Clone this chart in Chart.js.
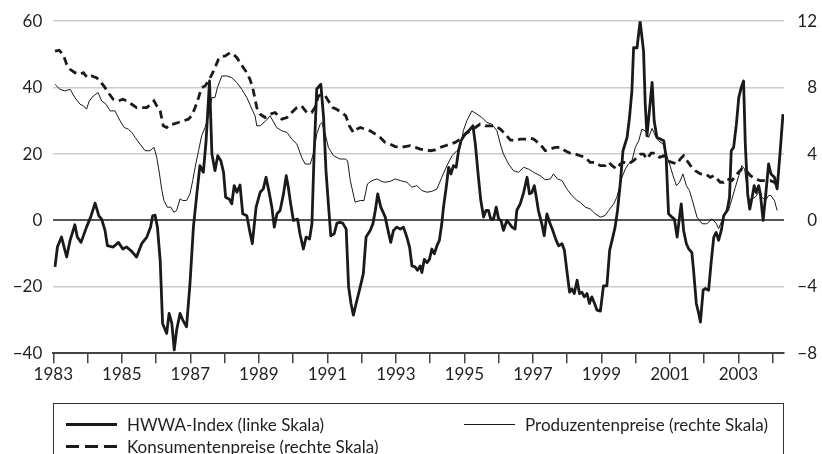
<!DOCTYPE html>
<html><head><meta charset="utf-8">
<script src="https://cdn.jsdelivr.net/npm/chart.js@4"></script>
<style>
html,body{margin:0;padding:0;background:#fff;overflow:hidden;}
#wrap{position:relative;width:822px;height:454px;overflow:hidden;}
#c{position:absolute;left:0;top:0;}
#legend{position:absolute;left:53px;top:403px;width:731px;height:80px;border:1.5px solid #333;box-sizing:border-box;font-family:Lato,sans-serif;font-size:17px;color:#231f20;}
.item{position:absolute;height:20px;display:flex;align-items:center;white-space:nowrap;}
.sw{width:51px;margin-right:10px;}
.s1{height:3px;background:#1a1a1a;}
.s2{height:1px;background:#1a1a1a;}
.s3{height:3px;background:repeating-linear-gradient(to right,#1a1a1a 0 13px,transparent 13px 19px);}
</style></head>
<body>
<div id="wrap">
<canvas id="c" width="822" height="454"></canvas>
<div id="legend">
 <div class="item" style="left:12px;top:10px"><div class="sw s1"></div><span>HWWA-Index (linke Skala)</span></div>
 <div class="item" style="left:410px;top:10px"><div class="sw s2"></div><span>Produzentenpreise (rechte Skala)</span></div>
 <div class="item" style="left:12px;top:32px"><div class="sw s3"></div><span>Konsumentenpreise (rechte Skala)</span></div>
</div>
</div>
<script>
// Time axis ticks (years) and value axes ticks
const tickYears = [1983,1984,1985,1986,1987,1988,1989,1990,1991,1992,1993,1994,1995,1996,1997,1998,1999,2000,2001,2002,2003,2004];
const leftTicks = [-40,-20,0,20,40,60];
const rightTicks = [-8,-4,0,4,8,12];

// HWWA-Index (left scale)
const hwwaYears = [1983.05,1983.12,1983.24,1983.39,1983.49,1983.63,1983.70,1983.81,1983.97,1984.09,1984.22,1984.33,1984.41,1984.51,1984.58,1984.75,1984.90,1985.03,1985.14,1985.29,1985.43,1985.58,1985.73,1985.84,1985.90,1985.97,1986.04,1986.12,1986.19,1986.31,1986.38,1986.46,1986.53,1986.60,1986.70,1986.78,1986.89,1986.99,1987.09,1987.19,1987.28,1987.38,1987.46,1987.56,1987.63,1987.72,1987.80,1987.89,1987.97,1988.03,1988.14,1988.21,1988.28,1988.36,1988.45,1988.53,1988.65,1988.73,1988.81,1988.92,1989.04,1989.13,1989.21,1989.31,1989.38,1989.45,1989.53,1989.62,1989.72,1989.80,1989.86,1989.93,1990.01,1990.13,1990.20,1990.30,1990.38,1990.48,1990.55,1990.61,1990.69,1990.81,1990.89,1990.96,1991.03,1991.10,1991.20,1991.28,1991.37,1991.45,1991.55,1991.62,1991.69,1991.76,1991.84,1991.96,1992.05,1992.13,1992.25,1992.33,1992.40,1992.47,1992.56,1992.69,1992.75,1992.85,1992.93,1993.03,1993.13,1993.22,1993.32,1993.40,1993.47,1993.56,1993.63,1993.71,1993.76,1993.83,1993.91,1993.98,1994.05,1994.12,1994.20,1994.27,1994.34,1994.39,1994.47,1994.54,1994.61,1994.68,1994.76,1994.83,1994.90,1994.99,1995.07,1995.17,1995.25,1995.32,1995.41,1995.48,1995.56,1995.63,1995.70,1995.77,1995.85,1995.93,1996.00,1996.07,1996.14,1996.24,1996.32,1996.39,1996.48,1996.53,1996.63,1996.73,1996.83,1996.90,1996.97,1997.04,1997.10,1997.16,1997.26,1997.33,1997.41,1997.49,1997.58,1997.68,1997.75,1997.85,1997.92,1997.99,1998.07,1998.14,1998.21,1998.29,1998.36,1998.43,1998.50,1998.58,1998.65,1998.72,1998.80,1998.87,1998.97,1999.06,1999.16,1999.24,1999.31,1999.40,1999.47,1999.55,1999.63,1999.75,1999.82,1999.89,1999.94,2000.04,2000.13,2000.23,2000.28,2000.33,2000.41,2000.48,2000.54,2000.62,2000.72,2000.82,2000.89,2000.96,2001.06,2001.13,2001.21,2001.28,2001.33,2001.40,2001.48,2001.55,2001.64,2001.69,2001.77,2001.84,2001.89,2001.97,2002.03,2002.13,2002.20,2002.28,2002.35,2002.42,2002.50,2002.57,2002.67,2002.74,2002.79,2002.86,2002.94,2003.01,2003.08,2003.15,2003.20,2003.27,2003.33,2003.40,2003.46,2003.52,2003.59,2003.64,2003.72,2003.79,2003.88,2003.95,2004.05,2004.13,2004.22,2004.30];
const hwwaValues = [-14,-8,-5,-11,-6,-1.3,-5,-6.6,-2,1,5.2,1.4,0.4,-3,-7.6,-8,-6.6,-8.6,-8,-9.3,-11,-7,-5,-2,1.4,1.6,-2,-12,-31,-34,-28,-31,-39,-33,-28,-30,-32,-19,-2,8,16.5,14.5,24,42,20,15,19.5,18,14.5,7,6.4,5,10.5,8.5,10.7,2,1.4,-3,-7,4,8.5,9.5,13,8,4,-2,2,3,8,13.5,10,5,0,0.4,-4,-8.6,-5,-5.6,-1,19,39.6,41,31,15,5,-4.6,-4,-0.8,-0.6,-0.8,-2.6,-20,-25,-28.5,-25,-20,-16,-5,-3,-1,3,8,4,1,-2,-6.6,-3,-2,-2.6,-2,-5,-8,-13.7,-14,-15,-13.7,-15.7,-11.7,-12.7,-11.7,-8.6,-10,-7.6,-6,-1,4,10,16,14,16.5,16,21,24,25.5,26.5,27.5,28.5,23,13,6,1,3,3,0.4,0.4,4,0.4,0,-3,0,-1,-2,-2.6,3,5,8.4,13,8,8.4,10.5,7,3,-1,-4.6,2,-0.6,-3,-6,-7.6,-7,-9,-15,-21.6,-20.6,-22,-18,-22,-21.6,-23,-22,-25,-23,-25,-27,-27.3,-19.7,-19.7,-9,-6,-2,3,11,21,25,31,39,52,52,60,51,35,25.5,34,41.6,30,25,24.5,24,19,2,1,0.4,-5,1,5,-3,-7,-8.6,-9.6,-15,-25,-28,-30.6,-21,-20.5,-21,-13,-5,-3.6,-6,-3,1.4,3,7,21,22,29,37,40,42,23,8,3.4,7,10.5,8.4,10.5,8,0,7,17,14,13,9.5,21,32];

// Produzentenpreise (right scale)
const ppiYears = [1983.05,1983.19,1983.34,1983.49,1983.63,1983.78,1983.88,1983.97,1984.05,1984.17,1984.31,1984.41,1984.54,1984.66,1984.80,1984.95,1985.07,1985.19,1985.29,1985.39,1985.53,1985.68,1985.82,1985.94,1986.02,1986.10,1986.17,1986.23,1986.33,1986.43,1986.52,1986.60,1986.70,1986.78,1986.89,1986.99,1987.07,1987.14,1987.24,1987.33,1987.43,1987.53,1987.63,1987.72,1987.79,1987.92,1988.06,1988.21,1988.36,1988.50,1988.65,1988.80,1988.89,1988.94,1989.04,1989.20,1989.33,1989.52,1989.67,1989.82,1989.96,1990.11,1990.25,1990.35,1990.50,1990.59,1990.69,1990.79,1990.84,1990.94,1991.03,1991.18,1991.37,1991.52,1991.59,1991.67,1991.81,1991.96,1992.07,1992.17,1992.30,1992.45,1992.54,1992.66,1992.83,1992.98,1993.13,1993.32,1993.47,1993.61,1993.76,1993.91,1994.05,1994.20,1994.34,1994.49,1994.64,1994.78,1994.88,1994.97,1995.07,1995.22,1995.37,1995.51,1995.66,1995.80,1995.95,1996.05,1996.14,1996.29,1996.43,1996.58,1996.73,1996.87,1997.02,1997.21,1997.36,1997.51,1997.60,1997.72,1997.85,1997.99,1998.14,1998.29,1998.38,1998.53,1998.67,1998.82,1998.97,1999.11,1999.21,1999.36,1999.45,1999.53,1999.60,1999.70,1999.79,1999.89,1999.99,2000.09,2000.18,2000.28,2000.38,2000.48,2000.57,2000.67,2000.80,2000.89,2000.99,2001.09,2001.19,2001.28,2001.38,2001.48,2001.57,2001.67,2001.79,2001.94,2002.08,2002.23,2002.36,2002.42,2002.52,2002.62,2002.71,2002.81,2002.91,2003.01,2003.10,2003.18,2003.30,2003.40,2003.49,2003.59,2003.69,2003.79,2003.88,2003.95,2004.05,2004.13];
const ppiValues = [8.2,7.9,7.8,7.9,7.4,7.0,6.9,6.7,7.2,7.5,7.7,7.2,7.0,6.6,6.6,6.0,5.6,5.5,5.3,5.0,4.6,4.2,4.2,4.4,3.8,2.8,1.8,1.2,0.8,0.8,0.5,0.6,1.3,1.2,1.2,1.6,2.4,3.2,4.2,5.1,5.6,6.3,7.4,7.4,8.0,8.7,8.7,8.6,8.3,7.9,7.4,6.7,6.3,5.7,5.7,6.0,6.3,5.6,5.4,5.3,4.9,4.6,3.8,3.4,3.4,4.0,5.2,5.8,5.9,5.2,4.4,3.9,3.7,3.7,3.6,2.4,1.1,1.2,1.2,2.2,2.4,2.5,2.4,2.3,2.35,2.5,2.4,2.3,2.0,2.1,1.8,1.7,1.75,1.9,2.6,3.3,3.9,4.2,4.4,5.4,6.0,6.6,6.4,6.2,5.9,5.8,5.4,4.6,4.0,3.4,3.0,2.9,3.2,3.1,2.9,2.7,2.45,2.5,2.8,2.5,2.4,1.9,1.5,1.2,1.1,0.8,0.7,0.4,0.2,0.3,0.6,1.0,1.4,2.0,2.6,3.1,3.4,3.6,4.4,4.8,5.5,5.4,5.0,5.55,5.1,4.8,4.6,4.0,3.4,2.7,2.1,2.3,2.8,2.1,1.8,1.1,0.2,-0.2,-0.2,0.1,-0.2,-0.5,0,0.4,0.6,1.3,2.0,2.7,3.3,3.1,1.2,1.3,1.4,1.7,1.4,1.2,1.5,1.5,1.2,0.6];

// Konsumentenpreise (right scale)
const cpiYears = [1983.05,1983.17,1983.29,1983.39,1983.49,1983.63,1983.78,1983.88,1983.99,1984.12,1984.26,1984.36,1984.51,1984.64,1984.75,1984.90,1985.03,1985.14,1985.29,1985.43,1985.58,1985.73,1985.84,1985.94,1986.02,1986.12,1986.17,1986.21,1986.31,1986.41,1986.50,1986.65,1986.80,1986.94,1987.04,1987.14,1987.24,1987.33,1987.43,1987.53,1987.63,1987.72,1987.82,1987.92,1988.01,1988.16,1988.26,1988.36,1988.45,1988.55,1988.65,1988.74,1988.82,1988.89,1988.94,1989.04,1989.18,1989.33,1989.47,1989.57,1989.67,1989.82,1989.96,1990.11,1990.25,1990.40,1990.54,1990.64,1990.74,1990.84,1990.94,1991.03,1991.16,1991.27,1991.42,1991.54,1991.64,1991.76,1991.86,1991.96,1992.10,1992.25,1992.40,1992.54,1992.69,1992.83,1992.98,1993.13,1993.27,1993.42,1993.57,1993.71,1993.86,1994.01,1994.15,1994.30,1994.44,1994.59,1994.73,1994.88,1995.02,1995.17,1995.32,1995.46,1995.61,1995.75,1995.90,1996.05,1996.19,1996.34,1996.48,1996.63,1996.78,1996.92,1997.02,1997.21,1997.36,1997.51,1997.65,1997.80,1997.94,1998.09,1998.24,1998.38,1998.53,1998.67,1998.82,1998.97,1999.11,1999.21,1999.31,1999.45,1999.55,1999.65,1999.79,1999.94,2000.04,2000.14,2000.23,2000.33,2000.45,2000.57,2000.70,2000.82,2000.91,2001.06,2001.21,2001.30,2001.40,2001.50,2001.60,2001.74,2001.89,2002.04,2002.18,2002.28,2002.38,2002.47,2002.57,2002.67,2002.81,2002.96,2003.10,2003.23,2003.35,2003.49,2003.64,2003.79,2003.93,2004.05,2004.13];
const cpiValues = [10.2,10.25,10.0,9.4,9.1,8.9,8.8,8.9,8.6,8.7,8.6,8.4,8.0,7.6,7.3,7.2,7.3,7.2,7.0,6.8,6.8,6.8,7.0,7.2,6.9,6.6,6.1,5.7,5.6,5.8,5.8,5.9,6.0,6.1,6.3,6.8,7.4,8.0,8.1,8.4,8.8,9.2,9.7,9.9,9.9,10.1,10.0,9.8,9.5,9.2,8.9,8.5,8.0,7.3,6.8,6.4,6.2,6.4,6.5,6.3,6.1,6.2,6.5,6.8,6.9,6.5,6.5,6.8,7.5,7.6,7.5,7.2,6.8,6.7,6.5,6.3,5.7,5.3,5.5,5.6,5.5,5.4,5.2,5.0,4.7,4.6,4.45,4.4,4.45,4.5,4.4,4.3,4.25,4.2,4.25,4.4,4.5,4.6,4.7,4.9,5.2,5.4,5.6,5.8,5.7,5.7,5.7,5.5,5.2,4.85,4.8,4.9,4.9,4.95,4.9,4.6,4.2,4.3,4.4,4.4,4.2,4.05,4.0,3.9,3.8,3.5,3.5,3.3,3.3,3.5,3.3,3.1,3.4,3.5,3.4,3.6,3.8,4.0,4.0,3.7,4.05,4.05,3.8,3.9,3.6,3.5,3.4,3.7,3.9,3.6,3.3,3.0,2.8,2.8,2.6,2.7,2.5,2.3,2.3,2.5,2.4,2.8,3.1,3.0,2.7,2.5,2.4,2.4,2.4,2.3,2.1];

const toPts = (xs, ys) => xs.map((x, i) => ({x: x, y: ys[i]}));
const minus = v => String(v).replace('-', '\u2212');
const FONT = {family: 'Lato, sans-serif', size: 17};
const INK = '#231f20';

new Chart(document.getElementById('c'), {
  type: 'line',
  data: {
    datasets: [
      {label: 'HWWA-Index (linke Skala)', data: toPts(hwwaYears, hwwaValues), yAxisID: 'yL',
       borderColor: '#1a1a1a', borderWidth: 2.8, pointRadius: 0, tension: 0, borderJoinStyle: 'round'},
      {label: 'Produzentenpreise (rechte Skala)', data: toPts(ppiYears, ppiValues), yAxisID: 'yR',
       borderColor: '#1a1a1a', borderWidth: 1, pointRadius: 0, tension: 0},
      {label: 'Konsumentenpreise (rechte Skala)', data: toPts(cpiYears, cpiValues), yAxisID: 'yR',
       borderColor: '#1a1a1a', borderWidth: 2.8, borderDash: [8, 5], pointRadius: 0, tension: 0}
    ]
  },
  options: {
    responsive: false, animation: false, devicePixelRatio: 1,
    layout: {padding: {top: 21, right: 5, bottom: 0, left: 0}},
    plugins: {legend: {display: false}, tooltip: {enabled: false}},
    scales: {
      x: {
        type: 'linear', position: 'bottom', min: 1983, max: 2004.33,
        afterBuildTicks: s => { s.ticks = tickYears.map(v => ({value: v})); },
        afterFit: s => { s.height = 100.7; },
        ticks: {callback: v => ((v - 1983) % 2 === 0 ? String(v) : ''), autoSkip: false, maxRotation: 0, minRotation: 0,
                font: FONT, color: INK, padding: 1},
        grid: {drawOnChartArea: false, drawTicks: true, tickLength: 10, color: '#444', lineWidth: 1.5},
        border: {display: true, color: '#444', width: 2}
      },
      yL: {
        position: 'left', min: -40, max: 60,
        afterBuildTicks: s => { s.ticks = leftTicks.map(v => ({value: v})); },
        afterFit: s => { s.width = 53.3; },
        ticks: {callback: v => minus(v), font: FONT, color: INK, padding: 11},
        grid: {drawTicks: false,
               color: c => c.tick.value === 0 ? '#555' : (c.tick.value === -40 ? 'rgba(0,0,0,0)' : '#cccccc'),
               lineWidth: c => c.tick.value === 0 ? 2 : 1.5},
        border: {display: false}
      },
      yR: {
        position: 'right', min: -8, max: 12,
        afterBuildTicks: s => { s.ticks = rightTicks.map(v => ({value: v})); },
        afterFit: s => { s.width = 33; },
        ticks: {callback: v => minus(v), font: FONT, color: INK, crossAlign: 'far'},
        grid: {display: false},
        border: {display: false}
      }
    }
  }
});
</script>
</body></html>
